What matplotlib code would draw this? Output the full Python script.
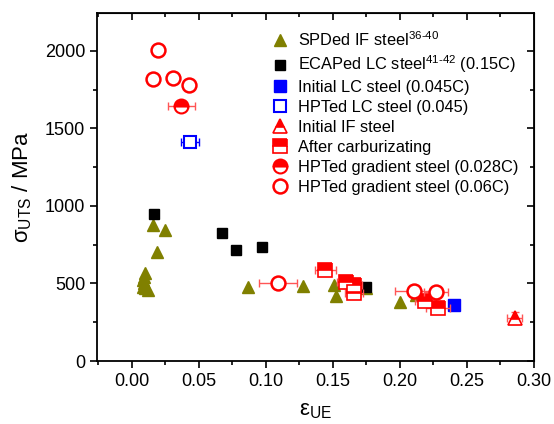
import matplotlib
matplotlib.use("Agg")
import matplotlib.pyplot as plt
from matplotlib.ticker import MultipleLocator

plt.rcParams['font.family'] = ['Liberation Sans', 'DejaVu Sans']
plt.rcParams['mathtext.fontset'] = 'custom'
plt.rcParams['mathtext.rm'] = 'Liberation Sans'
plt.rcParams['mathtext.it'] = 'Liberation Sans:italic'
plt.rcParams['mathtext.default'] = 'regular'

# SPDed IF steel (olive triangles)
spd_x = [0.0155, 0.025, 0.0187, 0.010, 0.009, 0.008, 0.009, 0.008, 0.010, 0.012,
         0.087, 0.128, 0.151, 0.152, 0.200, 0.212, 0.175]
spd_y = [877, 845, 705, 570, 545, 520, 500, 480, 470, 455,
         477, 484, 492, 420, 380, 425, 470]

# ECAPed LC steel (black squares)
ecap_x = [0.0164, 0.067, 0.078, 0.097, 0.175]
ecap_y = [950, 826, 716, 735, 477]

# Initial LC steel (0.045C)
ilc_x = [0.240]
ilc_y = [361]

# HPTed LC steel (0.045)
hlc_x = [0.0433]
hlc_y = [1415]
hlc_xerr = [0.007]

# Initial IF steel
iif_x = [0.2856]
iif_y = [277]
iif_xerr = [0.0055]
iif_yerr = [40]

# After carburizating
car_x = [0.1443, 0.1597, 0.1657, 0.1657, 0.219, 0.2287]
car_y = [585, 512, 490, 437, 387, 340]
car_xerr = [0.008, 0.007, 0.006, 0.007, 0.008, 0.009]

# HPTed gradient steel (0.028C)
g28_x = [0.037]
g28_y = [1645]
g28_xerr = [0.010]

# HPTed gradient steel (0.06C)
g06_x = [0.0194, 0.0157, 0.0304, 0.0423, 0.109, 0.2102, 0.2269]
g06_y = [2005, 1820, 1826, 1780, 500, 452, 445]
g06_xerr = [0.002, 0.002, 0.002, 0.003, 0.014, 0.014, 0.009]

labels = [
    r'SPDed IF steel$^{36\text{-}40}$',
    r'ECAPed LC steel$^{41\text{-}42}$ (0.15C)',
    'Initial LC steel (0.045C)',
    'HPTed LC steel (0.045)',
    'Initial IF steel',
    'After carburizating',
    'HPTed gradient steel (0.028C)',
    'HPTed gradient steel (0.06C)',
]

olive = '#808000'
red = '#ff0000'
blue = '#0000ff'

fig = plt.figure(figsize=(5.54, 4.24), dpi=100)
ax = fig.add_axes([97/554, 1-361/424, (534-97)/554, (361-13)/424])

ebkw = dict(ecolor='#ff5555', elinewidth=1.0, capsize=3, capthick=1.0)

h1, = ax.plot(spd_x, spd_y, '^', color=olive, ms=9, mec=olive, linestyle='none')
h2, = ax.plot(ecap_x, ecap_y, 's', color='black', ms=6.5, linestyle='none')
h3, = ax.plot(ilc_x, ilc_y, 's', color=blue, mfc=blue, mec=blue, ms=9, linestyle='none')
ax.errorbar(hlc_x, hlc_y, xerr=hlc_xerr, fmt='none', ecolor=blue, elinewidth=1.0, capsize=3)
h4, = ax.plot(hlc_x, hlc_y, 's', mfc='white', mec=blue, mew=1.5, ms=9, linestyle='none')
ax.errorbar(iif_x, iif_y, xerr=iif_xerr, yerr=iif_yerr, fmt='none', **ebkw)
h5, = ax.plot(iif_x, iif_y, '^', color=red, mec=red, fillstyle='top', mfc=red, mfcalt='white', ms=10, mew=1.2, linestyle='none')
ax.errorbar(car_x, car_y, xerr=car_xerr, fmt='none', **ebkw)
h6, = ax.plot(car_x, car_y, 's', color=red, mec=red, fillstyle='top', mfc=red, mfcalt='white', ms=10, mew=1.2, linestyle='none')
ax.errorbar(g28_x, g28_y, xerr=g28_xerr, fmt='none', **ebkw)
h7, = ax.plot(g28_x, g28_y, 'o', color=red, mec=red, fillstyle='top', mfc=red, mfcalt='white', ms=10, mew=1.5, linestyle='none')
ax.errorbar(g06_x, g06_y, xerr=g06_xerr, fmt='none', **ebkw)
h8, = ax.plot(g06_x, g06_y, 'o', mfc='white', mec=red, ms=10, mew=1.8, linestyle='none')

ax.set_xlim(-0.026, 0.30)
ax.set_ylim(0, 2245)
ax.xaxis.set_major_locator(MultipleLocator(0.05))
ax.xaxis.set_minor_locator(MultipleLocator(0.025))
ax.yaxis.set_major_locator(MultipleLocator(500))
ax.yaxis.set_minor_locator(MultipleLocator(250))
ax.xaxis.set_major_formatter(matplotlib.ticker.FormatStrFormatter('%.2f'))
ax.tick_params(axis='both', which='major', labelsize=13, length=5, width=1.2, direction='out')
ax.tick_params(axis='both', which='minor', length=3, width=1.2, direction='out')
for sp in ax.spines.values():
    sp.set_linewidth(1.3)

# mirrored inward ticks on top and right
axt = ax.secondary_xaxis('top')
axt.xaxis.set_major_locator(MultipleLocator(0.05))
axt.xaxis.set_minor_locator(MultipleLocator(0.025))
axt.tick_params(which='major', direction='in', length=5, width=1.2, labeltop=False)
axt.tick_params(which='minor', direction='in', length=3, width=1.2)
axr = ax.secondary_yaxis('right')
axr.yaxis.set_major_locator(MultipleLocator(500))
axr.yaxis.set_minor_locator(MultipleLocator(250))
axr.tick_params(which='major', direction='in', length=5, width=1.2, labelright=False)
axr.tick_params(which='minor', direction='in', length=3, width=1.2)

ax.set_xlabel(r'$\epsilon_{UE}$', fontsize=16, labelpad=7)
ax.set_ylabel('$σ_{UTS}$ / MPa', fontsize=16, labelpad=8)

leg = ax.legend([h1, h2, h3, h4, h5, h6, h7, h8], labels, loc='upper left',
                bbox_to_anchor=(0.385, 0.97), frameon=False, fontsize=11.8,
                handlelength=1.0, handletextpad=0.6, labelspacing=0.3,
                borderaxespad=0)

fig.savefig('out.png', dpi=100)
